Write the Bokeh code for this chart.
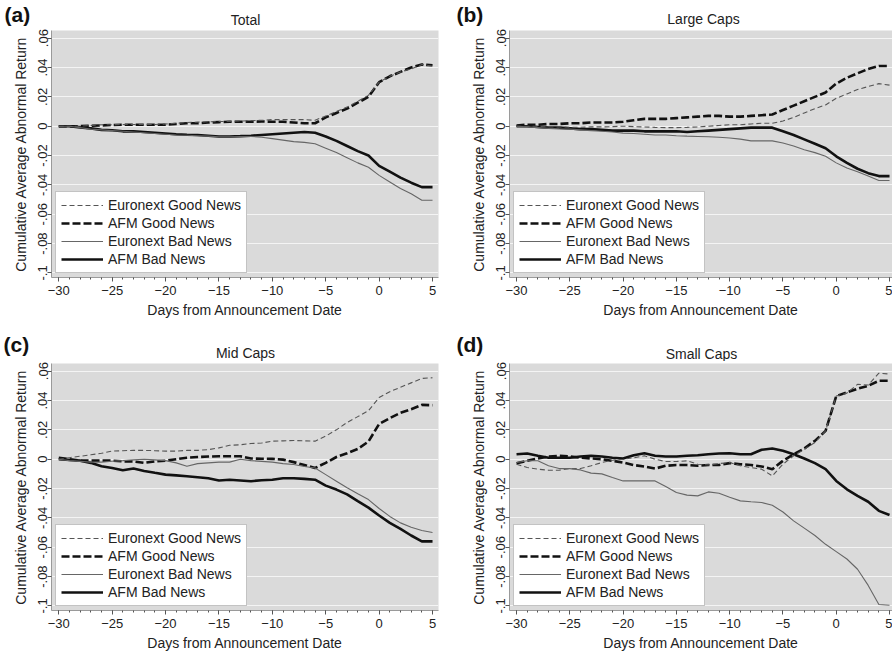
from bokeh.plotting import figure
from bokeh.layouts import column, row
from bokeh.models import Range1d, FixedTicker, Legend, LegendItem, Label
from bokeh.embed import file_html
from bokeh.resources import INLINE

# ---------------- data ----------------
days = list(range(-30, 6))
x_ticks = [-30, -25, -20, -15, -10, -5, 0, 5]
y_ticks = [-0.1, -0.08, -0.06, -0.04, -0.02, 0.0, 0.02, 0.04, 0.06]
y_tick_labels = ["-.1", "-.08", "-.06", "-.04", "-.02", "0", ".02", ".04", ".06"]
series_names = ["Euronext Good News", "AFM Good News", "Euronext Bad News", "AFM Bad News"]
panel_letters = ["(a)", "(b)", "(c)", "(d)"]
panel_titles = ["Total", "Large Caps", "Mid Caps", "Small Caps"]

# Panel (a) Total
a_eu_good = [0, 0, 0, .0005, .001, .001, .0012, .0012, .0012, .0012,
             .0015, .002, .0025, .0028, .003, .0032, .0033, .0035, .0038, .004,
             .0045, .0045, .0045, .0045, .004, .007, .010, .013, .017, .021,
             .030, .034, .037, .039, .042, .041]
a_afm_good = [0, 0, 0, .0003, .0005, .0008, .001, .001, .001, .001,
              .001, .0015, .002, .002, .0025, .0028, .003, .003, .003, .0032,
              .003, .003, .0025, .002, .002, .006, .009, .012, .016, .020,
              .030, .034, .037, .040, .042, .0415]
a_eu_bad = [0, 0, -.001, -.002, -.0025, -.003, -.0035, -.004, -.0045, -.005,
            -.0055, -.006, -.0062, -.0065, -.0068, -.0072, -.0072, -.007, -.007, -.0075,
            -.0085, -.0095, -.0105, -.011, -.012, -.015, -.018, -.0215, -.025, -.028,
            -.0335, -.038, -.0425, -.046, -.0505, -.0505]
a_afm_bad = [0, 0, -.0008, -.0015, -.0025, -.0028, -.0035, -.0035, -.004, -.0045,
             -.005, -.0055, -.0058, -.006, -.0065, -.007, -.007, -.0068, -.0065, -.006,
             -.0055, -.005, -.0045, -.004, -.0045, -.007, -.010, -.0135, -.017, -.020,
             -.027, -.031, -.035, -.0385, -.0415, -.0415]

# Panel (b) Large Caps
b_eu_good = [0, 0, 0, -.0005, -.0005, -.0007, -.0007, -.0005, -.0005, -.0003,
             0, -.0003, -.0005, -.0008, -.001, -.001, -.0008, -.0005, 0, .0005,
             .001, .001, .0015, .002, .002, .0035, .006, .009, .012, .0145,
             .019, .022, .025, .027, .029, .028]
b_afm_good = [.0005, .001, .001, .0015, .0015, .002, .002, .0025, .0025, .0025,
              .003, .004, .005, .005, .005, .0055, .006, .0065, .007, .007,
              .0065, .0065, .007, .0075, .008, .011, .014, .017, .020, .023,
              .029, .033, .036, .039, .041, .041]
b_eu_bad = [0, -.0005, -.001, -.0015, -.0018, -.002, -.0025, -.003, -.0035, -.004,
            -.0047, -.005, -.0055, -.006, -.006, -.0065, -.0068, -.007, -.0072, -.0075,
            -.008, -.0088, -.010, -.010, -.010, -.0115, -.0135, -.016, -.018, -.0205,
            -.025, -.0285, -.031, -.034, -.037, -.037]
b_afm_bad = [0, 0, -.0005, -.001, -.001, -.0015, -.002, -.002, -.0025, -.003,
             -.003, -.003, -.0035, -.0035, -.0035, -.0035, -.004, -.0035, -.003, -.0025,
             -.002, -.0015, -.001, -.001, -.001, -.0035, -.006, -.009, -.012, -.015,
             -.0205, -.025, -.029, -.032, -.034, -.034]

# Panel (c) Mid Caps
c_eu_good = [0, .001, .002, .003, .004, .0055, .0058, .006, .006, .0058,
             .0055, .0055, .006, .006, .0065, .0077, .0095, .0098, .0107, .011,
             .0123, .0125, .0127, .0125, .0123, .0157, .020, .025, .029, .033,
             .042, .046, .049, .052, .055, .0555]
c_afm_good = [.001, 0, -.001, -.001, -.001, -.001, -.0015, -.0015, -.0025, -.0015,
              -.001, 0, .001, .0015, .0018, .002, .002, .002, .0005, .0003,
              .0002, -.0003, -.002, -.004, -.006, -.0025, .0015, .004, .007, .012,
              .024, .028, .0316, .034, .037, .0368]
c_eu_bad = [0, -.001, -.0015, -.002, -.002, -.0014, -.001, -.0005, 0, -.0005,
            -.001, -.0025, -.0048, -.003, -.0025, -.002, -.002, 0, -.001, -.0015,
            -.002, -.003, -.0036, -.005, -.006, -.0105, -.015, -.0195, -.0236, -.0275,
            -.0336, -.039, -.0434, -.0464, -.0486, -.050]
c_afm_bad = [0, -.0005, -.001, -.0025, -.0048, -.006, -.0075, -.0064, -.008, -.0093,
             -.0105, -.011, -.0116, -.0123, -.013, -.0145, -.014, -.0145, -.015, -.0143,
             -.014, -.013, -.013, -.0134, -.014, -.018, -.0207, -.024, -.0286, -.033,
             -.0384, -.0434, -.0475, -.052, -.056, -.056]

# Panel (d) Small Caps
d_eu_good = [-.0034, -.0057, -.0068, -.0075, -.0075, -.0064, -.0064, -.0045, -.0023, -.0007,
             0, .001, .0023, 0, -.0016, -.0016, -.0011, -.0034, -.0039, -.003,
             -.0023, -.0045, -.0057, -.0068, -.0114, -.0034, .0023, .0068, .0114, .0193,
             .043, .045, .051, .0505, .0586, .058]
d_afm_good = [-.0027, -.0011, .0005, .0018, .0023, .0018, .001, .0005, 0, -.0011,
              -.0023, -.004, -.005, -.0064, -.0045, -.004, -.004, -.0045, -.004, -.004,
              -.0027, -.0034, -.004, -.005, -.0068, -.0011, .0034, .0073, .0125, .0193,
              .043, .0455, .048, .050, .0534, .0534]
d_eu_bad = [-.0023, -.0011, -.0011, -.0045, -.0064, -.0064, -.0073, -.0095, -.010, -.0125,
            -.0148, -.0148, -.0148, -.0148, -.0186, -.0227, -.0245, -.025, -.0223, -.0232,
            -.026, -.0284, -.029, -.0295, -.0314, -.036, -.042, -.047, -.052, -.058,
            -.063, -.068, -.075, -.086, -.099, -.0995]
d_afm_bad = [.0034, .0039, .0023, .001, .001, .001, .0018, .0023, .0018, .001,
             .0005, .0027, .004, .0023, .0018, .0018, .0023, .0027, .0034, .0039,
             .004, .0034, .0034, .0064, .0073, .0057, .0034, .0005, -.0027, -.0068,
             -.0148, -.0205, -.025, -.029, -.0352, -.038]

panel_data = [
    [a_eu_good, a_afm_good, a_eu_bad, a_afm_bad],
    [b_eu_good, b_afm_good, b_eu_bad, b_afm_bad],
    [c_eu_good, c_afm_good, c_eu_bad, c_afm_bad],
    [d_eu_good, d_afm_good, d_eu_bad, d_afm_bad],
]

# ---------------- styling ----------------
FONT = "Liberation Sans"
BG = "#dadada"
TXT = "#222222"
line_styles = [
    dict(line_color="#555555", line_width=1.1, line_dash="5 3"),
    dict(line_color="#111111", line_width=2.6, line_dash="8 3"),
    dict(line_color="#666666", line_width=1.1),
    dict(line_color="#111111", line_width=2.6),
]

# layout geometry (px)
W = 446
TOTAL_W = 892
HEADER_H = [28, 33]
MAIN_H = [300, 295]
BORDER_LEFT = [51, 63]
BORDER_RIGHT = [8, 0]
BORDER_TOP = [2, 2]
BORDER_BOTTOM = [51, 46]
X_RANGES = [(-30.68, 5.56), (-30.66, 5.28)]
Y_RANGE = (-0.1031, 0.0652)
# header text positions (row-header px, y downward)
LETTER_POS = [(4, 14), (456, 14), (3, 16), (456, 16)]
TITLE_POS = [(245, 19), (703, 18), (245, 24), (701, 25)]


def make_header(r):
    h = figure(width=TOTAL_W, height=HEADER_H[r], x_range=Range1d(0, TOTAL_W),
               y_range=Range1d(HEADER_H[r], 0),
               output_backend="svg", toolbar_location=None,
               x_axis_type=None, y_axis_type=None,
               min_border_left=0, min_border_right=0, min_border_top=0, min_border_bottom=0)
    h.grid.visible = False
    h.outline_line_color = None
    h.background_fill_color = "white"
    h.border_fill_color = "white"
    for i in (2 * r, 2 * r + 1):
        lx, ly = LETTER_POS[i]
        tx, ty = TITLE_POS[i]
        h.add_layout(Label(x=lx, y=ly, text=panel_letters[i], text_font=FONT, text_font_size="21px",
                           text_font_style="bold", text_color="#111111",
                           text_align="left", text_baseline="middle"))
        h.add_layout(Label(x=tx, y=ty, text=panel_titles[i], text_font=FONT, text_font_size="14px",
                           text_color=TXT, text_align="center", text_baseline="middle"))
    return h


def make_panel(i):
    r, c = divmod(i, 2)
    p = figure(width=W, height=MAIN_H[r],
               x_range=Range1d(*X_RANGES[c]), y_range=Range1d(*Y_RANGE),
               output_backend="svg", toolbar_location=None,
               min_border_left=BORDER_LEFT[c], min_border_right=BORDER_RIGHT[c],
               min_border_top=BORDER_TOP[r], min_border_bottom=BORDER_BOTTOM[r])
    p.background_fill_color = BG
    p.border_fill_color = "white"
    p.outline_line_color = None

    rmap = {}
    for k in [1, 3, 0, 2]:  # thick lines first, thin ones on top
        rmap[k] = p.line(days, panel_data[i][k], **line_styles[k])

    p.xaxis.ticker = FixedTicker(ticks=x_ticks, minor_ticks=days)
    p.yaxis.ticker = FixedTicker(ticks=y_ticks)
    p.yaxis.major_label_overrides = dict(zip(y_ticks, y_tick_labels))
    p.yaxis.major_label_orientation = "vertical"
    p.xaxis.axis_label = "Days from Announcement Date"
    p.yaxis.axis_label = "Cumulative Average Abnormal Return"
    for ax in (p.xaxis, p.yaxis):
        ax.axis_line_color = "#9a9a9a"
        ax.major_tick_line_color = "#555555"
        ax.minor_tick_line_color = "#555555"
        ax.major_tick_in = 0
        ax.major_tick_out = 4
        ax.minor_tick_in = 0
        ax.minor_tick_out = 2
        ax.major_label_text_font = FONT
        ax.major_label_text_font_size = "13px"
        ax.major_label_text_color = TXT
        ax.axis_label_text_font = FONT
        ax.axis_label_text_font_size = "14px"
        ax.axis_label_text_font_style = "normal"
        ax.axis_label_text_color = TXT
    p.yaxis.minor_tick_line_color = None
    p.xaxis.major_label_standoff = 4
    p.yaxis.major_label_standoff = 0
    p.xaxis.axis_label_standoff = 4
    p.yaxis.axis_label_standoff = 7

    p.xgrid.visible = False
    p.ygrid.ticker = FixedTicker(ticks=y_ticks)
    p.ygrid.grid_line_color = "#f4f4f4"
    p.ygrid.grid_line_width = 1.2

    legend = Legend(items=[LegendItem(label=series_names[k], renderers=[rmap[k]]) for k in range(4)],
                    location="bottom_left", margin=4, padding=5, spacing=2,
                    glyph_width=42, glyph_height=14, label_height=14, label_standoff=5,
                    label_text_font=FONT, label_text_font_size="14px", label_text_color=TXT,
                    border_line_color="#888888", border_line_width=1,
                    background_fill_color="white", background_fill_alpha=1.0)
    p.add_layout(legend)
    return p


panels = [make_panel(i) for i in range(4)]
layout = column(
    make_header(0),
    row(panels[0], panels[1], spacing=0),
    make_header(1),
    row(panels[2], panels[3], spacing=0),
    spacing=0,
)

open("out.html", "w").write(file_html(layout, INLINE))
